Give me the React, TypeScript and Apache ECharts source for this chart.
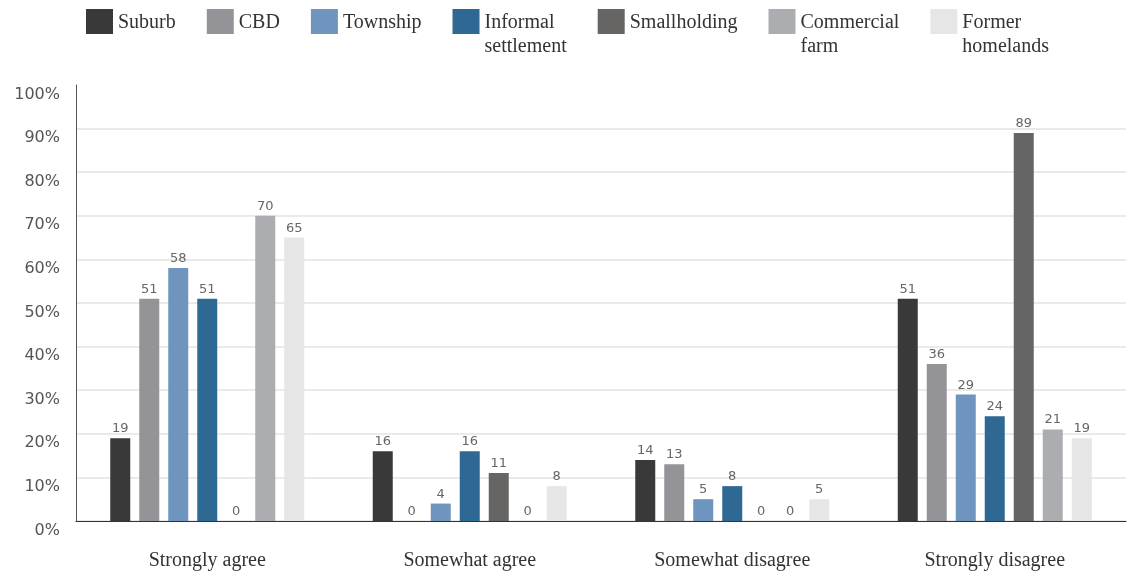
import React, { useEffect, useRef } from "react";
import * as echarts from "echarts";

const categories = ["Strongly agree", "Somewhat agree", "Somewhat disagree", "Strongly disagree"];
const seriesNames = ["Suburb", "CBD", "Township", "Informal settlement", "Smallholding", "Commercial farm", "Former homelands"];
const legendLabels = ["Suburb", "CBD", "Township", "Informal\nsettlement", "Smallholding", "Commercial\nfarm", "Former\nhomelands"];
const colors = ["#393939", "#949397", "#6f95bf", "#2e6893", "#666564", "#acadb0", "#e6e6e6"];

const suburb = [19, 16, 14, 51];
const cbd = [51, 0, 13, 36];
const township = [58, 4, 5, 29];
const informal = [51, 16, 8, 24];
const smallholding = [0, 11, 0, 89];
const commercial = [70, 0, 0, 21];
const homelands = [65, 8, 5, 19];
const seriesValues = [suburb, cbd, township, informal, smallholding, commercial, homelands];

const yTicks = { min: 0, max: 100, interval: 10 };

export default function App() {
  const ref = useRef<HTMLDivElement>(null);
  useEffect(() => {
    if (!ref.current) return;
    const chart = echarts.init(ref.current, null, { renderer: "svg" });
    const serif = "'Liberation Serif', serif";
    const sans = "'DejaVu Sans', sans-serif";
    chart.setOption({
      animation: false,
      legend: {
        left: 86,
        top: 9,
        padding: 0,
        itemWidth: 27,
        itemHeight: 48,
        itemGap: 31,
        icon: "path://M0,0H27V25H0Z M0,48",
        textStyle: { fontFamily: serif, fontSize: 20, color: "#333", lineHeight: 24 },
        formatter: (name: string) => {
          const l = legendLabels[seriesNames.indexOf(name)];
          return l.includes("\n") ? l : l + "\n ";
        },
        data: seriesNames,
      },
      grid: { left: 76, right: 10, top: 85, bottom: 55, containLabel: false },
      xAxis: {
        type: "category",
        data: categories,
        axisLine: { lineStyle: { color: "#333", width: 1 } },
        axisTick: { inside: true, length: 10, lineStyle: { color: "#333" } },
        axisLabel: { fontFamily: serif, fontSize: 20, color: "#333", margin: 28 },
      },
      yAxis: {
        type: "value",
        min: yTicks.min,
        max: yTicks.max,
        interval: yTicks.interval,
        axisLine: { show: true, lineStyle: { color: "#555" } },
        axisTick: { show: false },
        splitLine: { showMaxLine: false, lineStyle: { color: "#e3e3e3", width: 1.5 } },
        axisLabel: {
          formatter: "{value}%",
          fontFamily: sans,
          fontSize: 16,
          color: "#555",
          margin: 16,
          verticalAlign: "top",
        },
      },
      series: seriesNames.map((n, i) => ({
        name: n,
        type: "bar",
        data: seriesValues[i],
        barWidth: 20,
        barGap: "45%",
        itemStyle: { color: colors[i] },
        label: {
          show: true,
          position: "top",
          distance: 4,
          fontFamily: sans,
          fontSize: 13,
          color: "#666",
        },
      })),
    });
    return () => chart.dispose();
  }, []);
  return <div ref={ref} style={{ position: "fixed", left: 0, top: 0, width: 1136, height: 576 }} />;
}
